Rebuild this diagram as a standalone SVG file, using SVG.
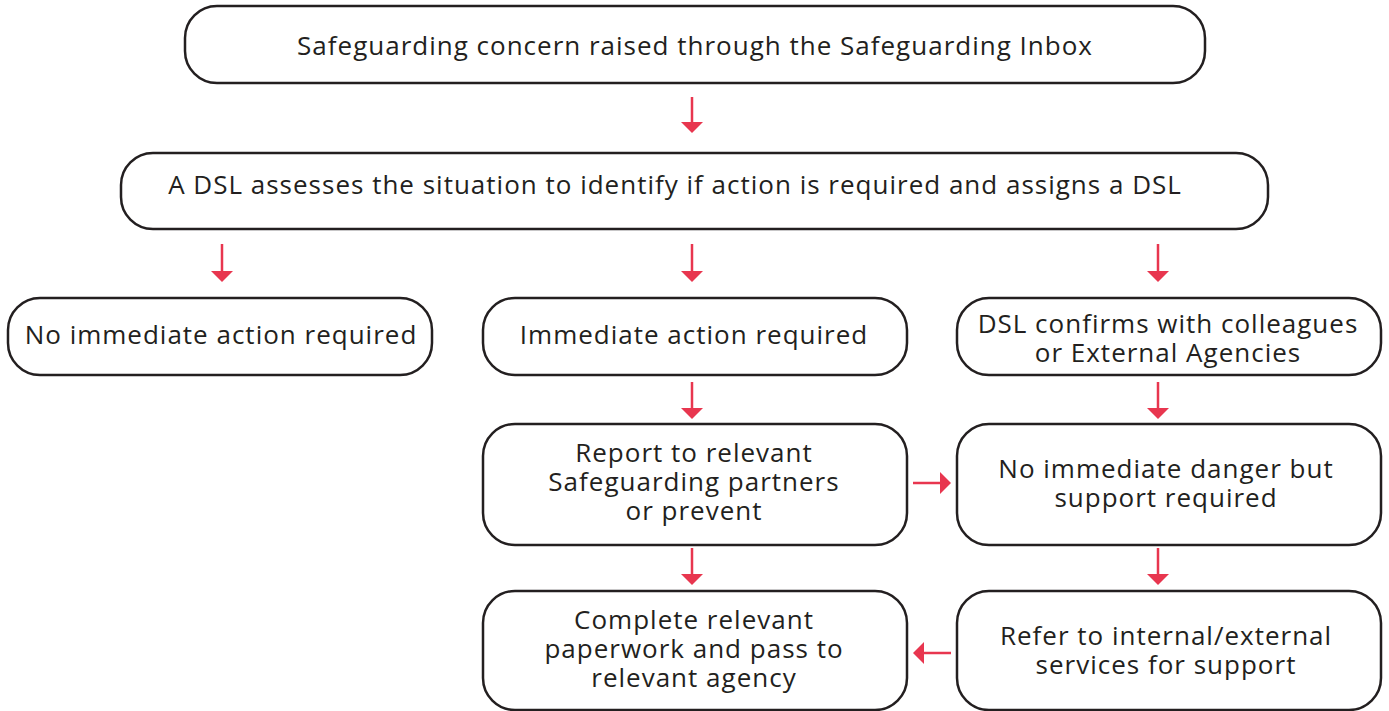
<svg xmlns="http://www.w3.org/2000/svg" width="1389" height="711" viewBox="0 0 1389 711">
<defs>
<style>
.box{fill:#fff;stroke:#231f20;stroke-width:2.5}
.t{font-family:"Open Sans","Noto Sans",sans-serif;font-size:26px;letter-spacing:1px;fill:#231f20;text-anchor:middle}
.c line{stroke:#e8364f;stroke-width:2.5}
.c path{fill:#e8364f}
</style>
</defs>
<rect width="1389" height="711" fill="#fff"/>
<g class="c">
<line x1="692" y1="97" x2="692" y2="122"/><path d="M681,122 L703,122 L692,133 Z"/>
<line x1="222" y1="244" x2="222" y2="271"/><path d="M211,271 L233,271 L222,282 Z"/>
<line x1="692" y1="244" x2="692" y2="271"/><path d="M681,271 L703,271 L692,282 Z"/>
<line x1="1158" y1="244" x2="1158" y2="271"/><path d="M1147,271 L1169,271 L1158,282 Z"/>
<line x1="692" y1="382" x2="692" y2="408"/><path d="M681,408 L703,408 L692,419 Z"/>
<line x1="1158" y1="382" x2="1158" y2="408"/><path d="M1147,408 L1169,408 L1158,419 Z"/>
<line x1="692" y1="548" x2="692" y2="574"/><path d="M681,574 L703,574 L692,585 Z"/>
<line x1="1158" y1="548" x2="1158" y2="574"/><path d="M1147,574 L1169,574 L1158,585 Z"/>
<line x1="913" y1="483" x2="940" y2="483"/><path d="M940,472 L940,494 L951,483 Z"/>
<line x1="951" y1="653" x2="924" y2="653"/><path d="M924,642 L924,664 L913,653 Z"/>
</g>
<g id="n1"><rect class="box" x="185" y="6" width="1020" height="77" rx="32"/><text class="t" x="695" y="55">Safeguarding concern raised through the Safeguarding Inbox</text></g>
<g id="n2"><rect class="box" x="121" y="153" width="1147" height="76" rx="32"/><text class="t" x="675" y="194">A DSL assesses the situation to identify if action is required and assigns a DSL</text></g>
<g id="n3"><rect class="box" x="8" y="298" width="424" height="77" rx="32"/><text class="t" x="221" y="344">No immediate action required</text></g>
<g id="n4"><rect class="box" x="483" y="298" width="424" height="77" rx="32"/><text class="t" x="694" y="344">Immediate action required</text></g>
<g id="n5"><rect class="box" x="957" y="298" width="424" height="77" rx="32"/><text class="t" y="333"><tspan x="1168">DSL confirms with colleagues</tspan><tspan x="1168" dy="29">or External Agencies</tspan></text></g>
<g id="n6"><rect class="box" x="483" y="424" width="424" height="121" rx="32"/><text class="t" y="462"><tspan x="694">Report to relevant</tspan><tspan x="694" dy="29">Safeguarding partners</tspan><tspan x="694" dy="29">or prevent</tspan></text></g>
<g id="n7"><rect class="box" x="957" y="424" width="424" height="121" rx="32"/><text class="t" y="478"><tspan x="1166">No immediate danger but</tspan><tspan x="1166" dy="29">support required</tspan></text></g>
<g id="n8"><rect class="box" x="483" y="591" width="424" height="119" rx="32"/><text class="t" y="629"><tspan x="694">Complete relevant</tspan><tspan x="694" dy="29">paperwork and pass to</tspan><tspan x="694" dy="29">relevant agency</tspan></text></g>
<g id="n9"><rect class="box" x="957" y="591" width="424" height="119" rx="32"/><text class="t" y="645"><tspan x="1166">Refer to internal/external</tspan><tspan x="1166" dy="29">services for support</tspan></text></g>
</svg>
